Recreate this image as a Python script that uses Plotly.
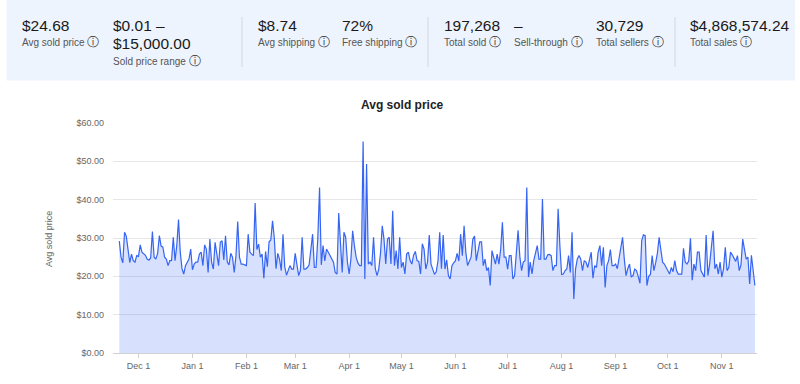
import pandas as pd
import plotly.graph_objects as go

# ---------------- data ----------------
start_date = "2022-11-20"
avg_price = [
    29.2, 25.0, 23.5, 31.5, 30.5, 27.0, 23.6, 25.8, 24.1, 23.7,
    25.4, 25.2, 28.2, 26.3, 25.8, 25.5, 24.5, 24.2, 24.8, 31.7,
    25.0, 24.5, 26.0, 30.6, 27.9, 27.6, 25.0, 24.5, 22.8, 24.1,
    24.1, 30.2, 24.1, 28.0, 34.8, 26.3, 22.0, 20.6, 22.8, 23.7,
    24.5, 27.1, 21.7, 23.2, 23.7, 23.7, 25.8, 26.3, 22.8, 28.2,
    27.1, 21.0, 29.7, 23.7, 21.9, 28.9, 25.4, 22.8, 28.9, 29.3,
    24.3, 30.6, 23.7, 23.0, 26.0, 25.0, 21.0, 25.4, 34.3, 25.0,
    23.2, 23.2, 23.0, 22.8, 31.0, 26.3, 25.8, 25.4, 39.1, 27.0,
    28.4, 25.0, 25.8, 19.5, 26.5, 22.5, 29.0, 29.5, 34.5, 30.0,
    22.0, 26.0, 24.5, 21.5, 31.0, 22.5, 20.3, 21.5, 22.8, 21.9,
    21.9, 26.0, 23.0, 20.2, 21.5, 30.2, 21.9, 21.9, 22.3, 23.0,
    27.0, 31.0, 22.3, 22.3, 30.0, 43.2, 23.0, 28.0, 24.0, 27.1,
    26.3, 25.4, 24.5, 23.7, 21.0, 20.6, 36.5, 28.0, 21.0, 31.5,
    30.2, 23.7, 20.6, 24.5, 31.9, 28.0, 25.0, 23.5, 22.8, 22.8,
    55.2, 19.3, 49.3, 23.2, 23.7, 22.8, 30.2, 22.0, 20.2, 21.9,
    26.0, 33.2, 29.7, 23.2, 29.7, 30.2, 23.2, 37.1, 22.8, 26.7,
    21.9, 30.2, 22.3, 23.7, 20.6, 25.8, 26.3, 24.1, 23.2, 25.5,
    26.5, 24.1, 23.9, 20.6, 28.5, 27.1, 21.9, 23.7, 30.8, 23.2,
    21.5, 20.5, 21.2, 24.0, 31.5, 22.0, 30.8, 21.9, 24.3, 20.2,
    19.3, 22.8, 23.5, 24.0, 26.0, 24.0, 31.0, 25.4, 33.2, 26.2,
    22.8, 24.1, 25.0, 29.7, 30.5, 24.1, 27.0, 29.0, 29.0, 22.8,
    24.5, 21.5, 22.3, 17.6, 26.7, 24.5, 23.2, 25.8, 23.2, 27.0,
    34.1, 25.0, 25.0, 21.9, 25.4, 25.4, 19.3, 20.2, 25.4, 32.0,
    25.2, 21.5, 23.7, 24.1, 43.2, 19.8, 23.7, 20.6, 24.1, 26.0,
    28.0, 24.5, 24.5, 40.2, 24.5, 24.5, 25.6, 25.7, 25.4, 21.5,
    22.8, 22.8, 37.6, 28.0, 20.5, 20.6, 21.5, 21.9, 25.4, 21.0,
    31.5, 14.1, 21.9, 24.5, 25.4, 24.5, 21.5, 24.1, 23.7, 22.3,
    24.0, 26.3, 19.5, 22.8, 22.3, 26.3, 28.0, 22.8, 27.6, 17.1,
    22.8, 24.1, 27.0, 22.8, 22.8, 23.2, 22.0, 25.0, 28.0, 30.2,
    24.5, 20.2, 22.0, 23.2, 19.8, 20.2, 21.9, 21.5, 20.0, 18.2,
    29.3, 30.8, 30.6, 17.6, 20.0, 20.5, 25.4, 21.5, 23.5, 26.0,
    30.2, 26.3, 23.7, 23.2, 22.3, 21.7, 20.6, 22.3, 21.2, 24.1,
    21.5, 20.6, 20.6, 20.6, 27.3, 23.7, 23.2, 24.0, 29.9, 19.0,
    23.2, 21.5, 26.3, 26.3, 21.5, 20.6, 19.8, 30.8, 20.2, 23.2,
    28.0, 31.9, 22.0, 23.2, 20.6, 23.7, 19.8, 22.0, 27.6, 21.5,
    22.3, 26.3, 25.6, 24.7, 23.9, 25.4, 21.5, 23.0, 29.7, 27.1,
    24.5, 25.0, 18.0, 25.5, 21.0, 17.6,
]
dates = pd.date_range(start_date, periods=len(avg_price), freq="D")

month_ticks = ["2022-12-01", "2023-01-01", "2023-02-01", "2023-03-01", "2023-04-01",
               "2023-05-01", "2023-06-01", "2023-07-01", "2023-08-01", "2023-09-01",
               "2023-10-01", "2023-11-01"]
month_labels = ["Dec 1", "Jan 1", "Feb 1", "Mar 1", "Apr 1", "May 1", "Jun 1",
                "Jul 1", "Aug 1", "Sep 1", "Oct 1", "Nov 1"]
y_ticks = [0, 10, 20, 30, 40, 50, 60]
y_labels = ["$0.00", "$10.00", "$20.00", "$30.00", "$40.00", "$50.00", "$60.00"]

stat_values = ["$24.68", "$0.01 –", "$8.74", "72%", "197,268", "–", "30,729", "$4,868,574.24"]
stat_labels = ["Avg sold price", "Sold price range", "Avg shipping", "Free shipping",
               "Total sold", "Sell-through", "Total sellers", "Total sales"]
range_high = "$15,000.00"

# ---------------- layout geometry ----------------
W, H = 800, 384
ML, MR, MT, MB = 113, 43, 123, 31
PW, PH = W - ML - MR, H - MT - MB
FONT = "Liberation Sans, Arial, sans-serif"


def px(x):
    return (x - ML) / PW


def py(y):
    return (H - MB - y) / PH


fig = go.Figure()
fig.add_trace(go.Scatter(
    x=dates, y=avg_price, mode="lines",
    line=dict(color="#3665F3", width=1.2),
    fill="tozeroy", fillcolor="rgba(54,101,243,0.2)",
    hoverinfo="skip",
))

shapes = [
    dict(type="rect", xref="paper", yref="paper", x0=px(6.5), x1=px(795), y0=py(0), y1=py(80.5),
         fillcolor="#EEF4FD", line=dict(width=0), layer="below"),
]
for dx in [242, 428, 675]:
    shapes.append(dict(type="line", xref="paper", yref="paper", x0=px(dx), x1=px(dx),
                       y0=py(17), y1=py(67), line=dict(color="#D3D8E0", width=1)))

annotations = []
val_x = [21, 112, 257, 341, 443, 513, 595, 689]
lab_y = [42, 61, 42, 42, 42, 42, 42, 42]
for v, l, x, ly in zip(stat_values, stat_labels, val_x, lab_y):
    annotations.append(dict(text=v, x=px(x - 1), y=py(25), xref="paper", yref="paper",
                            xanchor="left", yanchor="middle", showarrow=False,
                            font=dict(family=FONT, size=15.5, color="#191919")))
    annotations.append(dict(text=l + " <span style='font-size:12px;color:#333333'>ⓘ</span>",
                            x=px(x - 1), y=py(ly), xref="paper", yref="paper",
                            xanchor="left", yanchor="middle", showarrow=False,
                            font=dict(family=FONT, size=10, color="#555555")))
annotations.append(dict(text=range_high, x=px(111), y=py(43), xref="paper", yref="paper",
                        xanchor="left", yanchor="middle", showarrow=False,
                        font=dict(family=FONT, size=15.5, color="#191919")))
annotations.append(dict(text="<b>Avg sold price</b>", x=px(402), y=py(105), xref="paper", yref="paper",
                        xanchor="center", yanchor="middle", showarrow=False,
                        font=dict(family=FONT, size=12, color="#222222")))
annotations.append(dict(text="Avg sold price", x=px(49), y=py(239), xref="paper", yref="paper",
                        xanchor="center", yanchor="middle", showarrow=False, textangle=-90,
                        font=dict(family=FONT, size=9, color="#666666")))

fig.update_layout(
    width=W, height=H,
    margin=dict(l=ML, r=MR, t=MT, b=MB, pad=0),
    paper_bgcolor="white", plot_bgcolor="white",
    showlegend=False,
    shapes=shapes, annotations=annotations,
    xaxis=dict(
        type="date",
        range=["2022-11-16 09:00", "2023-11-21 05:00"],
        tickvals=month_ticks, ticktext=month_labels,
        showgrid=False, showline=True, linecolor="#D0D0D0", linewidth=1,
        ticks="outside", ticklen=4, tickcolor="#D0D0D0",
        tickfont=dict(family=FONT, size=9, color="#666666"),
        zeroline=False,
    ),
    yaxis=dict(
        range=[0, 60], tickvals=y_ticks, ticktext=y_labels,
        showgrid=True, gridcolor="#E6E6E6", gridwidth=1,
        zeroline=False, showline=False, ticks="",
        ticklabelstandoff=8,
        tickfont=dict(family=FONT, size=9, color="#666666"),
    ),
)

fig.write_html("out.html", config={"displayModeBar": False},
               post_script="document.body.style.margin='0';")
